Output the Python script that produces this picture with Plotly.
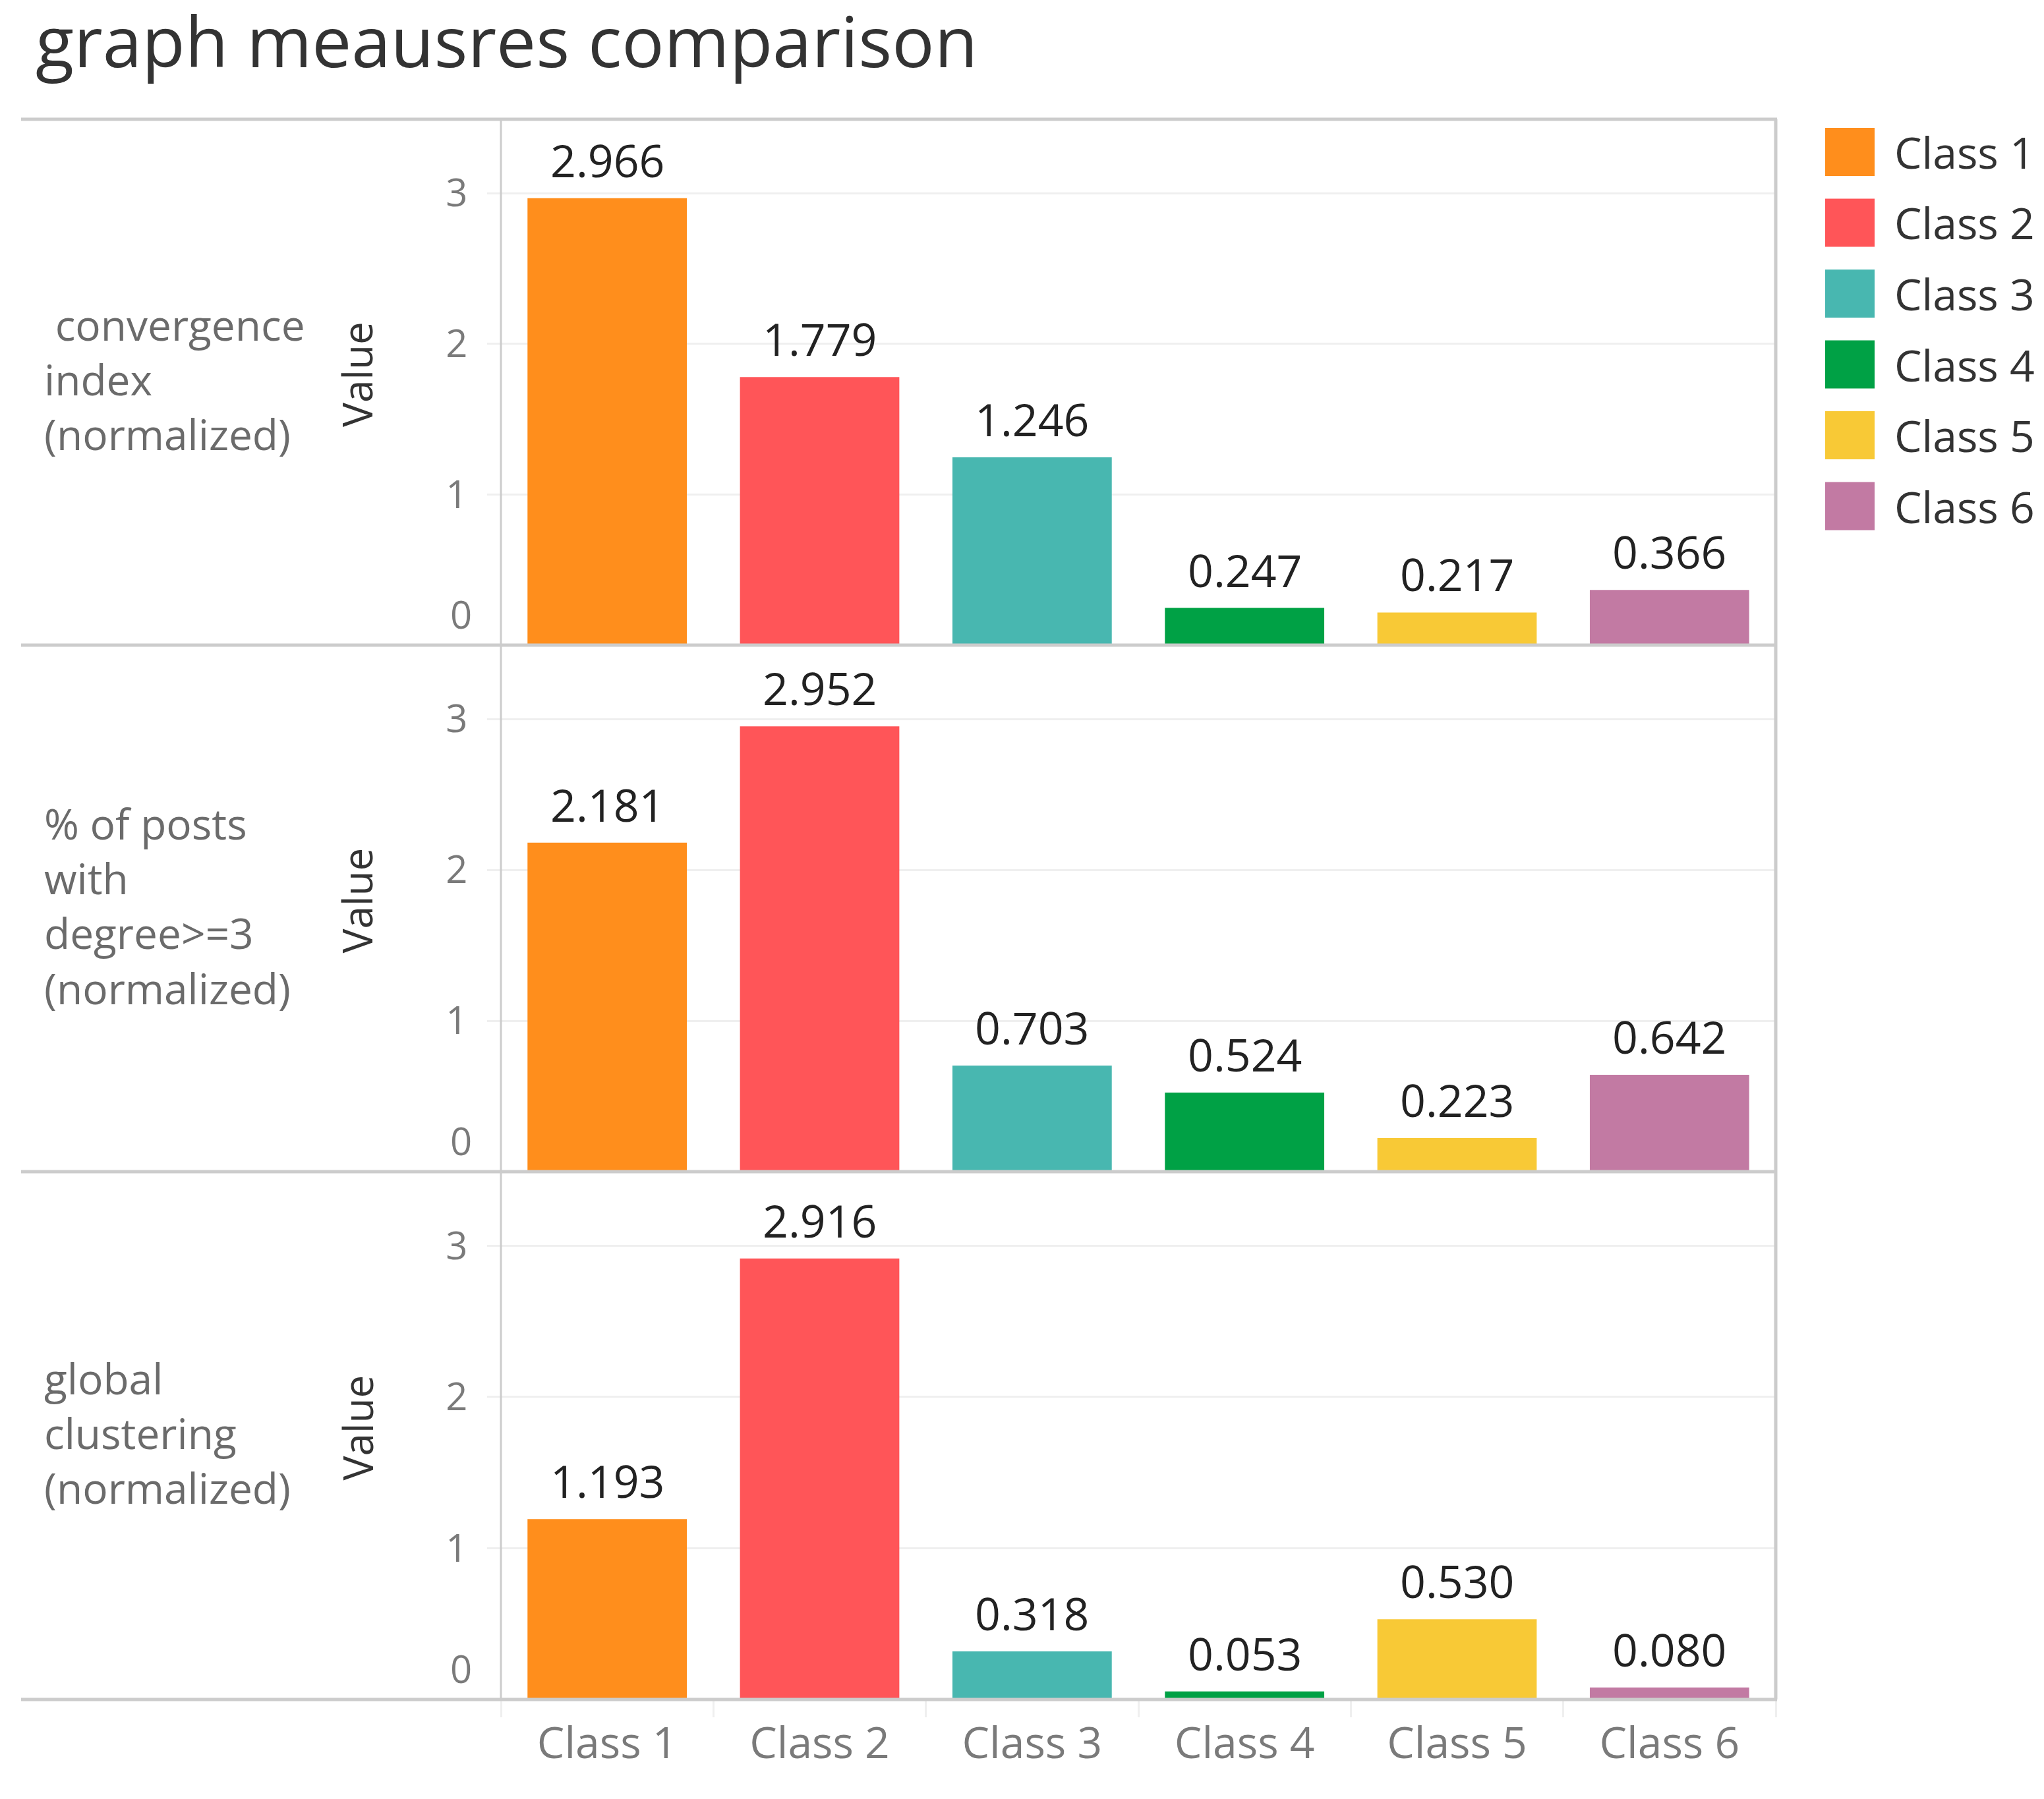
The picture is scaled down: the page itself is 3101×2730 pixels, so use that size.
import plotly.graph_objects as go
from plotly.subplots import make_subplots

W, H = 3101, 2730
OFF = 8  # the page body margin shifts the plot by this much
FW, FH = W - OFF, H - OFF

classes = ["Class 1", "Class 2", "Class 3", "Class 4", "Class 5", "Class 6"]
colors = ["#FF8E1C", "#FF5558", "#48B7B0", "#00A145", "#F8C936", "#C27AA3"]

measures = [
    " convergence<br>index<br>(normalized)",
    "% of posts<br>with<br>degree>=3<br>(normalized)",
    "global<br>clustering<br>(normalized)",
]
convergence = [2.966, 1.779, 1.246, 0.247, 0.217, 0.366]
posts_deg3 = [2.181, 2.952, 0.703, 0.524, 0.223, 0.642]
clustering = [1.193, 2.916, 0.318, 0.053, 0.530, 0.080]
series = [convergence, posts_deg3, clustering]

y_ticks = [1, 2, 3]

FONT = "Open Sans"
GRID = "#efefef"
BORDER = "#cccccc"
TICK_COL = "#7a7a7a"

# pane edges in page pixels (Tableau-like layout)
left_px, right_px = 760, 2694
rows_px = [181, 979, 1778, 2579]


def px_x(v):
    return (v - OFF) / FW


def px_y(v):
    return 1 - (v - OFF) / FH


fig = make_subplots(rows=3, cols=1, shared_xaxes=True, vertical_spacing=0)

for r, vals in enumerate(series, start=1):
    xr = "x" if r == 1 else f"x{r}"
    yr = "y" if r == 1 else f"y{r}"
    fig.add_trace(go.Bar(
        x=classes, y=vals,
        marker=dict(color=colors, line=dict(width=0)),
        showlegend=False, hoverinfo="skip",
    ), row=r, col=1)
    # value labels above the bars
    for c, v in zip(classes, vals):
        fig.add_annotation(
            x=c, y=v, xref=xr, yref=yr,
            text=f"{v:.3f}", showarrow=False, yanchor="bottom", yshift=10,
            font=dict(family=FONT, size=68, color="#222222"),
        )
    # the "0" tick sits above the pane edge
    fig.add_annotation(
        x=px_x(718), xref="paper", xanchor="right",
        y=0, yref=yr, yanchor="bottom", yshift=6,
        text="0", showarrow=False,
        font=dict(family=FONT, size=58, color=TICK_COL),
    )

for r in range(3):
    top, bot = rows_px[r], rows_px[r + 1]
    fig.update_yaxes(
        domain=[px_y(bot), px_y(top)], range=[0, 3.49],
        tickvals=y_ticks, showgrid=True, gridcolor=GRID, gridwidth=3,
        zeroline=False, showline=False,
        ticks="outside", ticklen=20, tickcolor=GRID, tickwidth=3,
        ticklabelstandoff=18,
        tickfont=dict(family=FONT, size=58, color=TICK_COL),
        row=r + 1, col=1,
    )
    fig.update_xaxes(
        domain=[px_x(left_px), px_x(right_px)],
        showgrid=False, zeroline=False, showline=False,
        row=r + 1, col=1,
    )
    # row header
    fig.add_annotation(
        x=px_x(65), y=px_y((top + bot) / 2 - 4), xref="paper", yref="paper",
        xanchor="left", yanchor="middle", align="left",
        text=measures[r], showarrow=False,
        font=dict(family=FONT, size=64, color="#6b6b6b"),
    )
    fig.add_annotation(
        x=px_x(541), y=px_y((top + bot) / 2 - 12), xref="paper", yref="paper",
        xanchor="center", yanchor="middle", textangle=-90,
        text="Value", showarrow=False,
        font=dict(family=FONT, size=62, color="#333333"),
    )

fig.update_xaxes(showticklabels=False, row=1, col=1)
fig.update_xaxes(showticklabels=False, row=2, col=1)
fig.update_xaxes(
    showticklabels=True, tickson="boundaries", ticks="outside",
    ticklen=26, tickcolor=GRID, tickwidth=3, ticklabelstandoff=22,
    tickfont=dict(family=FONT, size=66, color=TICK_COL),
    row=3, col=1,
)

shapes = []
for y in rows_px:
    shapes.append(dict(type="line", xref="paper", yref="paper",
                       x0=px_x(32), x1=px_x(right_px + 2), y0=px_y(y), y1=px_y(y),
                       line=dict(color=BORDER, width=5)))
shapes.append(dict(type="line", xref="paper", yref="paper",
                   x0=px_x(left_px), x1=px_x(left_px), y0=px_y(rows_px[0]), y1=px_y(rows_px[-1]),
                   line=dict(color=BORDER, width=3)))
shapes.append(dict(type="line", xref="paper", yref="paper",
                   x0=px_x(right_px), x1=px_x(right_px), y0=px_y(rows_px[0]), y1=px_y(rows_px[-1]),
                   line=dict(color=BORDER, width=5)))

# legend: big colour swatches like the original
for i, (c, col) in enumerate(zip(classes, colors)):
    y0 = 194 + i * 107.5
    shapes.append(dict(type="rect", xref="paper", yref="paper",
                       x0=px_x(2769), x1=px_x(2844), y0=px_y(y0), y1=px_y(y0 + 73),
                       fillcolor=col, line=dict(width=0)))
    fig.add_annotation(
        x=px_x(2872), y=px_y(y0 + 36), xref="paper", yref="paper",
        xanchor="left", yanchor="middle", text=c, showarrow=False,
        font=dict(family=FONT, size=66, color="#333333"),
    )

fig.add_annotation(
    x=px_x(52), y=px_y(60), xref="paper", yref="paper",
    xanchor="left", yanchor="middle", text="graph meausres comparison",
    showarrow=False, font=dict(family=FONT, size=107, color="#333333"),
)

fig.update_layout(
    width=FW, height=FH,
    margin=dict(l=0, r=0, t=0, b=0),
    paper_bgcolor="white", plot_bgcolor="white",
    bargap=0.25, showlegend=False,
    shapes=shapes,
)

fig.write_html("out.html")
